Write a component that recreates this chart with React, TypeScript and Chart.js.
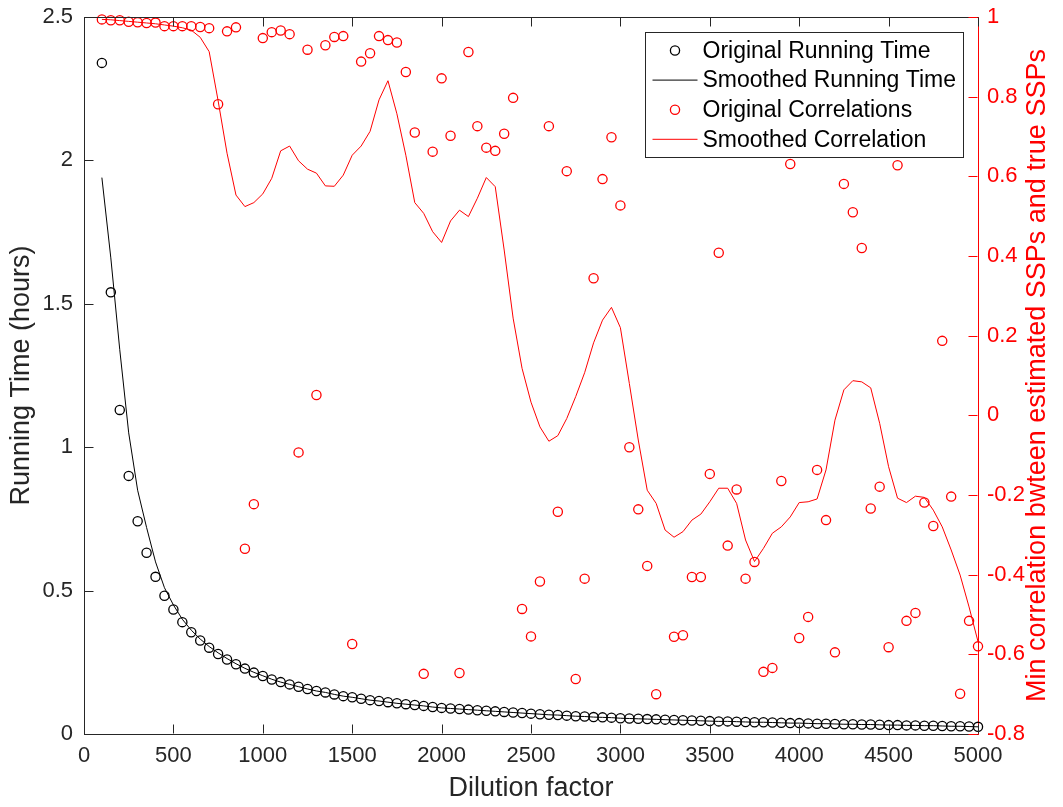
import React, { useEffect, useRef } from 'react';
import { Chart, registerables } from 'chart.js';

Chart.register(...registerables);

const dilutionFactor = [
  100, 150, 200, 250, 300, 350, 400, 450, 500, 550,
  600, 650, 700, 750, 800, 850, 900, 950, 1000, 1050,
  1100, 1150, 1200, 1250, 1300, 1350, 1400, 1450, 1500, 1550,
  1600, 1650, 1700, 1750, 1800, 1850, 1900, 1950, 2000, 2050,
  2100, 2150, 2200, 2250, 2300, 2350, 2400, 2450, 2500, 2550,
  2600, 2650, 2700, 2750, 2800, 2850, 2900, 2950, 3000, 3050,
  3100, 3150, 3200, 3250, 3300, 3350, 3400, 3450, 3500, 3550,
  3600, 3650, 3700, 3750, 3800, 3850, 3900, 3950, 4000, 4050,
  4100, 4150, 4200, 4250, 4300, 4350, 4400, 4450, 4500, 4550,
  4600, 4650, 4700, 4750, 4800, 4850, 4900, 4950, 5000,
];

const runningTimeOriginal = [
  2.34, 1.54, 1.13, 0.9, 0.742, 0.632, 0.548, 0.482, 0.434, 0.39,
  0.355, 0.326, 0.301, 0.279, 0.26, 0.243, 0.228, 0.214, 0.202, 0.19,
  0.181, 0.173, 0.165, 0.157, 0.15, 0.145, 0.138, 0.132, 0.128, 0.123,
  0.118, 0.115, 0.111, 0.107, 0.104, 0.101, 0.098, 0.094, 0.091, 0.089,
  0.087, 0.085, 0.083, 0.081, 0.079, 0.077, 0.075, 0.073, 0.071, 0.069,
  0.067, 0.066, 0.064, 0.062, 0.061, 0.059, 0.058, 0.057, 0.055, 0.054,
  0.053, 0.052, 0.051, 0.05, 0.049, 0.048, 0.047, 0.046, 0.045, 0.044,
  0.044, 0.043, 0.042, 0.041, 0.041, 0.04, 0.039, 0.038, 0.038, 0.037,
  0.036, 0.036, 0.035, 0.034, 0.034, 0.033, 0.033, 0.032, 0.031, 0.031,
  0.03, 0.03, 0.029, 0.029, 0.028, 0.027, 0.027, 0.026, 0.025,
];

const runningTimeSmoothed = [
  1.94, 1.66, 1.34, 1.05, 0.85, 0.72, 0.6, 0.51, 0.45, 0.4,
  0.362, 0.331, 0.305, 0.283, 0.263, 0.245, 0.229, 0.215, 0.203, 0.191,
  0.181, 0.173, 0.165, 0.157, 0.15, 0.145, 0.138, 0.132, 0.128, 0.123,
  0.118, 0.115, 0.111, 0.107, 0.104, 0.101, 0.098, 0.094, 0.091, 0.089,
  0.087, 0.085, 0.083, 0.081, 0.079, 0.077, 0.075, 0.073, 0.071, 0.069,
  0.067, 0.066, 0.064, 0.062, 0.061, 0.059, 0.058, 0.057, 0.055, 0.054,
  0.053, 0.052, 0.051, 0.05, 0.049, 0.048, 0.047, 0.046, 0.045, 0.044,
  0.044, 0.043, 0.042, 0.041, 0.041, 0.04, 0.039, 0.038, 0.038, 0.037,
  0.036, 0.036, 0.035, 0.034, 0.034, 0.033, 0.033, 0.032, 0.031, 0.031,
  0.03, 0.03, 0.029, 0.029, 0.028, 0.027, 0.027, 0.026, 0.025,
];

const correlationOriginal = [
  0.994, 0.992, 0.992, 0.988, 0.987, 0.985, 0.986, 0.977, 0.977, 0.977,
  0.977, 0.975, 0.972, 0.781, 0.964, 0.974, -0.335, -0.223, 0.947, 0.962,
  0.966, 0.957, -0.093, 0.918, 0.051, 0.929, 0.95, 0.952, -0.574, 0.888,
  0.909, 0.952, 0.942, 0.936, 0.862, 0.71, -0.649, 0.662, 0.846, 0.702,
  -0.647, 0.912, 0.726, 0.672, 0.664, 0.707, 0.797, -0.486, -0.555, -0.417,
  0.726, -0.242, 0.613, -0.662, -0.41, 0.344, 0.593, 0.698, 0.527, -0.08,
  -0.236, -0.378, -0.7, 0.8, -0.556, -0.552, -0.406, -0.406, -0.147, 0.408,
  -0.327, -0.186, -0.41, -0.368, -0.644, -0.634, -0.165, 0.631, -0.559, -0.506,
  -0.137, -0.263, -0.595, 0.581, 0.51, 0.42, -0.234, -0.179, -0.582, 0.628,
  -0.516, -0.496, -0.219, -0.278, 0.187, -0.204, -0.699, -0.516, -0.58,
];

const correlationSmoothed = [
  0.994, 0.993, 0.991, 0.989, 0.987, 0.985, 0.983, 0.98, 0.977, 0.973,
  0.967, 0.949, 0.913, 0.79, 0.658, 0.553, 0.524, 0.534, 0.556, 0.595,
  0.664, 0.676, 0.639, 0.618, 0.608, 0.576, 0.575, 0.603, 0.653, 0.676,
  0.713, 0.792, 0.84, 0.757, 0.653, 0.534, 0.507, 0.461, 0.434, 0.488,
  0.515, 0.499, 0.545, 0.597, 0.574, 0.415, 0.244, 0.118, 0.033, -0.029,
  -0.065, -0.051, -0.008, 0.047, 0.107, 0.182, 0.239, 0.271, 0.22, 0.08,
  -0.062, -0.188, -0.221, -0.288, -0.306, -0.292, -0.263, -0.248, -0.217, -0.183,
  -0.183, -0.221, -0.313, -0.367, -0.334, -0.296, -0.28, -0.255, -0.219, -0.217,
  -0.21, -0.137, -0.012, 0.064, 0.087, 0.084, 0.069, -0.02, -0.129, -0.208,
  -0.219, -0.203, -0.206, -0.238, -0.28, -0.338, -0.401, -0.481, -0.568,
];

const xTickValues = [0, 500, 1000, 1500, 2000, 2500, 3000, 3500, 4000, 4500, 5000];
const xTickLabels = ['0', '500', '1000', '1500', '2000', '2500', '3000', '3500', '4000', '4500', '5000'];
const leftTickValues = [0, 0.5, 1, 1.5, 2, 2.5];
const leftTickLabels = ['0', '0.5', '1', '1.5', '2', '2.5'];
const rightTickValues = [-0.8, -0.6, -0.4, -0.2, 0, 0.2, 0.4, 0.6, 0.8, 1];
const rightTickLabels = ['-0.8', '-0.6', '-0.4', '-0.2', '0', '0.2', '0.4', '0.6', '0.8', '1'];

const seriesLabels = [
  'Original Running Time',
  'Smoothed Running Time',
  'Original Correlations',
  'Smoothed Correlation',
];
const xTitle = 'Dilution factor';
const leftTitle = 'Running Time (hours)';
const rightTitle = 'Min correlation bwteen estimated SSPs and true SSPs';

const FONT = "'Liberation Sans', Arial, Helvetica, sans-serif";
const AXIS = '#262626';
const RED = '#ff0000';

const toPoints = (ys: number[]) => dilutionFactor.map((x, i) => ({ x, y: ys[i] }));

const axesDecor = {
  id: 'axesDecor',
  afterDatasetsDraw(chart: any) {
    const { ctx, chartArea: a, scales } = chart;
    const L = 9;
    ctx.save();
    ctx.lineWidth = 1;
    ctx.strokeStyle = AXIS;
    ctx.beginPath();
    const top = Math.round(a.top) + 0.5;
    const bottom = Math.round(a.bottom) - 0.5;
    for (const v of xTickValues) {
      const px = Math.round(scales.x.getPixelForValue(v)) + 0.5;
      ctx.moveTo(px, bottom);
      ctx.lineTo(px, bottom - L);
      ctx.moveTo(px, top);
      ctx.lineTo(px, top + L);
    }
    ctx.moveTo(a.left, top);
    ctx.lineTo(a.right, top);
    const left = Math.round(a.left) + 0.5;
    for (const v of leftTickValues) {
      const py = Math.round(scales.y.getPixelForValue(v)) + 0.5;
      ctx.moveTo(left, py);
      ctx.lineTo(left + L, py);
    }
    ctx.stroke();
    ctx.strokeStyle = RED;
    ctx.beginPath();
    const right = Math.round(a.right) - 0.5;
    for (const v of rightTickValues) {
      const py = Math.round(scales.y1.getPixelForValue(v)) + 0.5;
      ctx.moveTo(right, py);
      ctx.lineTo(right - L, py);
    }
    ctx.stroke();
    ctx.restore();
  },
  afterDraw(chart: any) {
    const { ctx, chartArea: a } = chart;
    ctx.save();
    // right axis title, reading bottom-to-top
    ctx.translate(1038, (a.top + a.bottom) / 2);
    ctx.rotate(-Math.PI / 2);
    ctx.fillStyle = RED;
    ctx.font = `27px ${FONT}`;
    ctx.textAlign = 'center';
    ctx.textBaseline = 'middle';
    ctx.fillText(rightTitle, 0, 0);
    ctx.restore();

    // legend box
    const bx = Math.round(a.right) - 333 + 0.5;
    const by = Math.round(a.top) + 15 + 0.5;
    const bw = 318;
    const bh = 125;
    ctx.save();
    ctx.fillStyle = '#ffffff';
    ctx.fillRect(bx, by, bw, bh);
    ctx.strokeStyle = AXIS;
    ctx.lineWidth = 1;
    ctx.strokeRect(bx, by, bw, bh);
    ctx.font = `23px ${FONT}`;
    ctx.textAlign = 'left';
    ctx.textBaseline = 'middle';
    chart.data.datasets.forEach((ds: any, i: number) => {
      const cy = by + 18 + i * 29.6;
      ctx.strokeStyle = ds.borderColor;
      ctx.lineWidth = ds.showLine === false ? 1.3 : 1;
      ctx.beginPath();
      if (ds.showLine === false) {
        ctx.arc(bx + 29.5, cy, 4.6, 0, Math.PI * 2);
      } else {
        ctx.moveTo(bx + 7, cy);
        ctx.lineTo(bx + 52, cy);
      }
      ctx.stroke();
      ctx.fillStyle = '#000000';
      ctx.fillText(ds.label, bx + 57, cy + 1);
    });
    ctx.restore();
  },
};

export default function App() {
  const canvasRef = useRef<HTMLCanvasElement | null>(null);

  useEffect(() => {
    const canvas = canvasRef.current;
    if (!canvas) return;
    const tickFont = { family: FONT, size: 22 };
    const titleFont = { family: FONT, size: 27 };
    const chart = new Chart(canvas, {
      type: 'line',
      data: {
        datasets: [
          {
            label: seriesLabels[0],
            data: toPoints(runningTimeOriginal),
            yAxisID: 'y',
            showLine: false,
            borderColor: '#000000',
            backgroundColor: 'rgba(0,0,0,0)',
            pointRadius: 4.6,
            pointBorderWidth: 1.3,
            pointBackgroundColor: 'rgba(0,0,0,0)',
            pointBorderColor: '#000000',
            clip: false,
            order: 4,
          },
          {
            label: seriesLabels[1],
            data: toPoints(runningTimeSmoothed),
            yAxisID: 'y',
            borderColor: '#000000',
            borderWidth: 1,
            pointRadius: 0,
            tension: 0,
            fill: false,
            clip: false,
            order: 3,
          },
          {
            label: seriesLabels[2],
            data: toPoints(correlationOriginal),
            yAxisID: 'y1',
            showLine: false,
            borderColor: RED,
            backgroundColor: 'rgba(0,0,0,0)',
            pointRadius: 4.6,
            pointBorderWidth: 1.3,
            pointBackgroundColor: 'rgba(0,0,0,0)',
            pointBorderColor: RED,
            clip: false,
            order: 2,
          },
          {
            label: seriesLabels[3],
            data: toPoints(correlationSmoothed),
            yAxisID: 'y1',
            borderColor: RED,
            borderWidth: 1,
            pointRadius: 0,
            tension: 0,
            fill: false,
            clip: false,
            order: 1,
          },
        ],
      },
      options: {
        responsive: false,
        animation: false,
        events: [],
        layout: { padding: { top: 17, left: 0, right: 0, bottom: 0 } },
        plugins: {
          legend: { display: false },
          tooltip: { enabled: false },
          title: { display: false },
        },
        scales: {
          x: {
            type: 'linear',
            position: 'bottom',
            min: 0,
            max: 5000,
            afterBuildTicks: (s: any) => {
              s.ticks = xTickValues.map((v) => ({ value: v }));
            },
            afterFit: (s: any) => {
              s.height = 73;
              s.paddingLeft = 0;
              s.paddingRight = 0;
            },
            ticks: {
              callback: (_v: any, i: number) => xTickLabels[i],
              font: tickFont,
              color: AXIS,
              padding: 9,
              maxRotation: 0,
              autoSkip: false,
            },
            grid: { display: true, drawOnChartArea: false, drawTicks: false },
            border: { display: true, color: AXIS, width: 1 },
            title: {
              display: true,
              text: xTitle,
              font: titleFont,
              color: AXIS,
              padding: { top: 0, bottom: 2 },
            },
          },
          y: {
            type: 'linear',
            position: 'left',
            min: 0,
            max: 2.5,
            afterBuildTicks: (s: any) => {
              s.ticks = leftTickValues.map((v) => ({ value: v }));
            },
            afterFit: (s: any) => {
              s.width = 84;
              s.paddingTop = 0;
              s.paddingBottom = 0;
            },
            ticks: {
              callback: (_v: any, i: number) => leftTickLabels[i],
              font: tickFont,
              color: AXIS,
              padding: 11,
              autoSkip: false,
            },
            grid: { display: true, drawOnChartArea: false, drawTicks: false },
            border: { display: true, color: AXIS, width: 1 },
            title: {
              display: true,
              text: leftTitle,
              font: titleFont,
              color: AXIS,
              padding: { top: 5, bottom: 0 },
            },
          },
          y1: {
            type: 'linear',
            position: 'right',
            min: -0.8,
            max: 1,
            afterBuildTicks: (s: any) => {
              s.ticks = rightTickValues.map((v) => ({ value: v }));
            },
            afterFit: (s: any) => {
              s.width = 85;
              s.paddingTop = 0;
              s.paddingBottom = 0;
            },
            ticks: {
              callback: (_v: any, i: number) => rightTickLabels[i],
              font: tickFont,
              color: RED,
              padding: 9,
              autoSkip: false,
            },
            grid: { display: true, drawOnChartArea: false, drawTicks: false },
            border: { display: true, color: RED, width: 1 },
            title: { display: false },
          },
        },
      },
      plugins: [axesDecor],
    } as any);
    return () => chart.destroy();
  }, []);

  return (
    <div
      style={{
        position: 'fixed',
        left: 0,
        top: 0,
        width: 1063,
        height: 807,
        background: '#ffffff',
      }}
    >
      <canvas ref={canvasRef} width={1063} height={807} style={{ display: 'block' }} />
    </div>
  );
}
